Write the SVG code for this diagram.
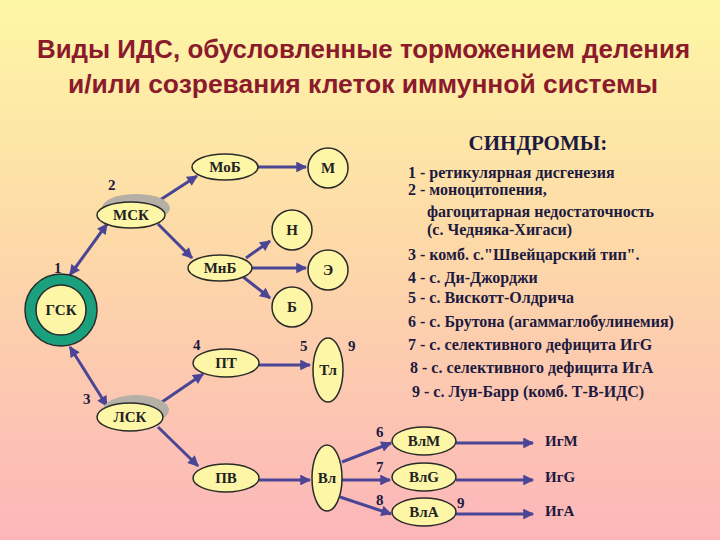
<svg xmlns="http://www.w3.org/2000/svg" width="720" height="540" viewBox="0 0 720 540">
<defs>
<linearGradient id="bg" x1="0" y1="0" x2="0" y2="1">
<stop offset="0" stop-color="#fef7a6"/>
<stop offset="0.45" stop-color="#fdd9a8"/>
<stop offset="1" stop-color="#fcb6ba"/>
</linearGradient>
<marker id="ah" viewBox="0 0 10 10" refX="9" refY="5" markerWidth="4" markerHeight="3.6" orient="auto-start-reverse" markerUnits="strokeWidth">
<path d="M0,0 L10,5 L0,10 z" fill="#4b4596"/>
</marker>
<style>
.title{font-family:"Liberation Sans","Noto Sans",sans-serif;font-weight:bold;font-size:25px;fill:#8a1a2c}
.node{fill:#fdf6a6;stroke:#2a2a2a;stroke-width:1.5}
.shadow{fill:#b4b0a6}
.nt{font-family:"Liberation Serif","DejaVu Serif",serif;font-weight:bold;font-size:15px;fill:#222;text-anchor:middle}
.num{font-family:"Liberation Serif","DejaVu Serif",serif;font-weight:bold;font-size:15px;fill:#1c1a40}
.lst{font-family:"Liberation Serif","DejaVu Serif",serif;font-weight:bold;font-size:16px;fill:#1c1a40}
.ig{font-family:"Liberation Serif","DejaVu Serif",serif;font-weight:bold;font-size:15px;fill:#1c1a40}
.con line{stroke:#4b4596;stroke-width:3;marker-end:url(#ah)}
</style>
</defs>
<rect width="720" height="540" fill="url(#bg)"/>
<g id="title">
<text class="title" x="37" y="58" textLength="653" lengthAdjust="spacingAndGlyphs">Виды ИДС, обусловленные торможением деления</text>
<text class="title" x="68" y="93" textLength="590" lengthAdjust="spacingAndGlyphs">и/или созревания клеток иммунной системы</text>
</g>
<g class="con" id="connectors">
<line x1="70" y1="275" x2="107" y2="224" style="marker-start:url(#ah)"/>
<line x1="160" y1="200" x2="197" y2="176"/>
<line x1="158" y1="224" x2="192" y2="258"/>
<line x1="258" y1="167" x2="306" y2="167"/>
<line x1="246" y1="258" x2="270" y2="241"/>
<line x1="252" y1="268" x2="306" y2="268"/>
<line x1="242" y1="276" x2="270" y2="298"/>
<line x1="70" y1="347" x2="107" y2="406" style="marker-start:url(#ah)"/>
<line x1="162" y1="402" x2="203" y2="374"/>
<line x1="158" y1="427" x2="198" y2="466"/>
<line x1="259" y1="365" x2="310" y2="365"/>
<line x1="259" y1="480" x2="310" y2="480"/>
<line x1="342" y1="462" x2="391" y2="443"/>
<line x1="342" y1="480" x2="390" y2="480"/>
<line x1="340" y1="497" x2="391" y2="514"/>
<line x1="456" y1="443" x2="533" y2="443"/>
<line x1="456" y1="480" x2="533" y2="480"/>
<line x1="456" y1="514" x2="533" y2="514"/>
</g>
<g id="gsk">
<circle cx="61" cy="310" r="36" fill="#1aa07c" stroke="#2a2a2a" stroke-width="1.5"/>
<circle cx="61" cy="310" r="25" class="node"/>
<text class="nt" x="61" y="315">ГСК</text>
</g>
<g id="msk">
<ellipse class="shadow" cx="136" cy="208" rx="34" ry="14"/>
<ellipse class="node" cx="131" cy="215" rx="34" ry="13"/>
<text class="nt" x="131" y="220">МСК</text>
</g>
<g id="mob"><ellipse class="node" cx="225" cy="167" rx="33" ry="13"/><text class="nt" x="225" y="172">МоБ</text></g>
<g id="m"><circle class="node" cx="328" cy="168" r="20"/><text class="nt" x="328" y="173">М</text></g>
<g id="n"><circle class="node" cx="292" cy="230" r="20"/><text class="nt" x="292" y="235">Н</text></g>
<g id="mnb"><ellipse class="node" cx="220" cy="268" rx="32" ry="13"/><text class="nt" x="220" y="273">МнБ</text></g>
<g id="e"><circle class="node" cx="328" cy="270" r="20"/><text class="nt" x="328" y="275">Э</text></g>
<g id="b"><circle class="node" cx="292" cy="307" r="20"/><text class="nt" x="292" y="312">Б</text></g>
<g id="lsk">
<ellipse class="shadow" cx="136" cy="410" rx="33" ry="15"/>
<ellipse class="node" cx="130" cy="417" rx="33" ry="14"/>
<text class="nt" x="130" y="422">ЛСК</text>
</g>
<g id="pt"><ellipse class="node" cx="226" cy="363" rx="33" ry="14"/><text class="nt" x="226" y="368">ПТ</text></g>
<g id="tl"><ellipse class="node" cx="328" cy="370" rx="15" ry="32"/><text class="nt" x="328" y="375">Тл</text></g>
<g id="pv"><ellipse class="node" cx="226" cy="478" rx="33" ry="14"/><text class="nt" x="226" y="483">ПВ</text></g>
<g id="vl"><ellipse class="node" cx="327" cy="478" rx="15" ry="33"/><text class="nt" x="327" y="483">Вл</text></g>
<g id="vlm"><ellipse class="node" cx="424" cy="441" rx="32" ry="14"/><text class="nt" x="424" y="446">ВлМ</text></g>
<g id="vlg"><ellipse class="node" cx="424" cy="477" rx="32" ry="14"/><text class="nt" x="424" y="482">ВлG</text></g>
<g id="vla"><ellipse class="node" cx="424" cy="512" rx="32" ry="14"/><text class="nt" x="424" y="517">ВлА</text></g>
<g id="labels">
<text class="num" x="54" y="273">1</text>
<text class="num" x="108" y="190">2</text>
<text class="num" x="83" y="404">3</text>
<text class="num" x="193" y="350">4</text>
<text class="num" x="300" y="351">5</text>
<text class="num" x="348" y="351">9</text>
<text class="num" x="376" y="437">6</text>
<text class="num" x="376" y="472">7</text>
<text class="num" x="376" y="505">8</text>
<text class="num" x="457" y="508">9</text>
<text class="ig" x="545" y="446">ИгМ</text>
<text class="ig" x="545" y="482">ИгG</text>
<text class="ig" x="545" y="516">ИгА</text>
</g>
<g id="syndromes">
<text x="538" y="150" text-anchor="middle" style="font-family:'Liberation Serif','DejaVu Serif',serif;font-weight:bold;font-size:21px;fill:#1c1a40">СИНДРОМЫ:</text>
<text class="lst" x="408" y="178">1 - ретикулярная дисгенезия</text>
<text class="lst" x="408" y="195">2 - моноцитопения,</text>
<text class="lst" x="427" y="217">фагоцитарная недостаточность</text>
<text class="lst" x="427" y="235">(с. Чедняка-Хигаси)</text>
<text class="lst" x="408" y="260">3 - комб. с."Швейцарский тип".</text>
<text class="lst" x="408" y="283">4 - с. Ди-Джорджи</text>
<text class="lst" x="408" y="303">5 - с. Вискотт-Олдрича</text>
<text class="lst" x="408" y="327">6 - с. Брутона (агаммаглобулинемия)</text>
<text class="lst" x="408" y="350">7 - с. селективного  дефицита ИгG</text>
<text class="lst" x="410" y="373">8 - с. селективного  дефицита ИгА</text>
<text class="lst" x="412" y="397">9 - с. Лун-Барр (комб. Т-В-ИДС)</text>
</g>
</svg>
